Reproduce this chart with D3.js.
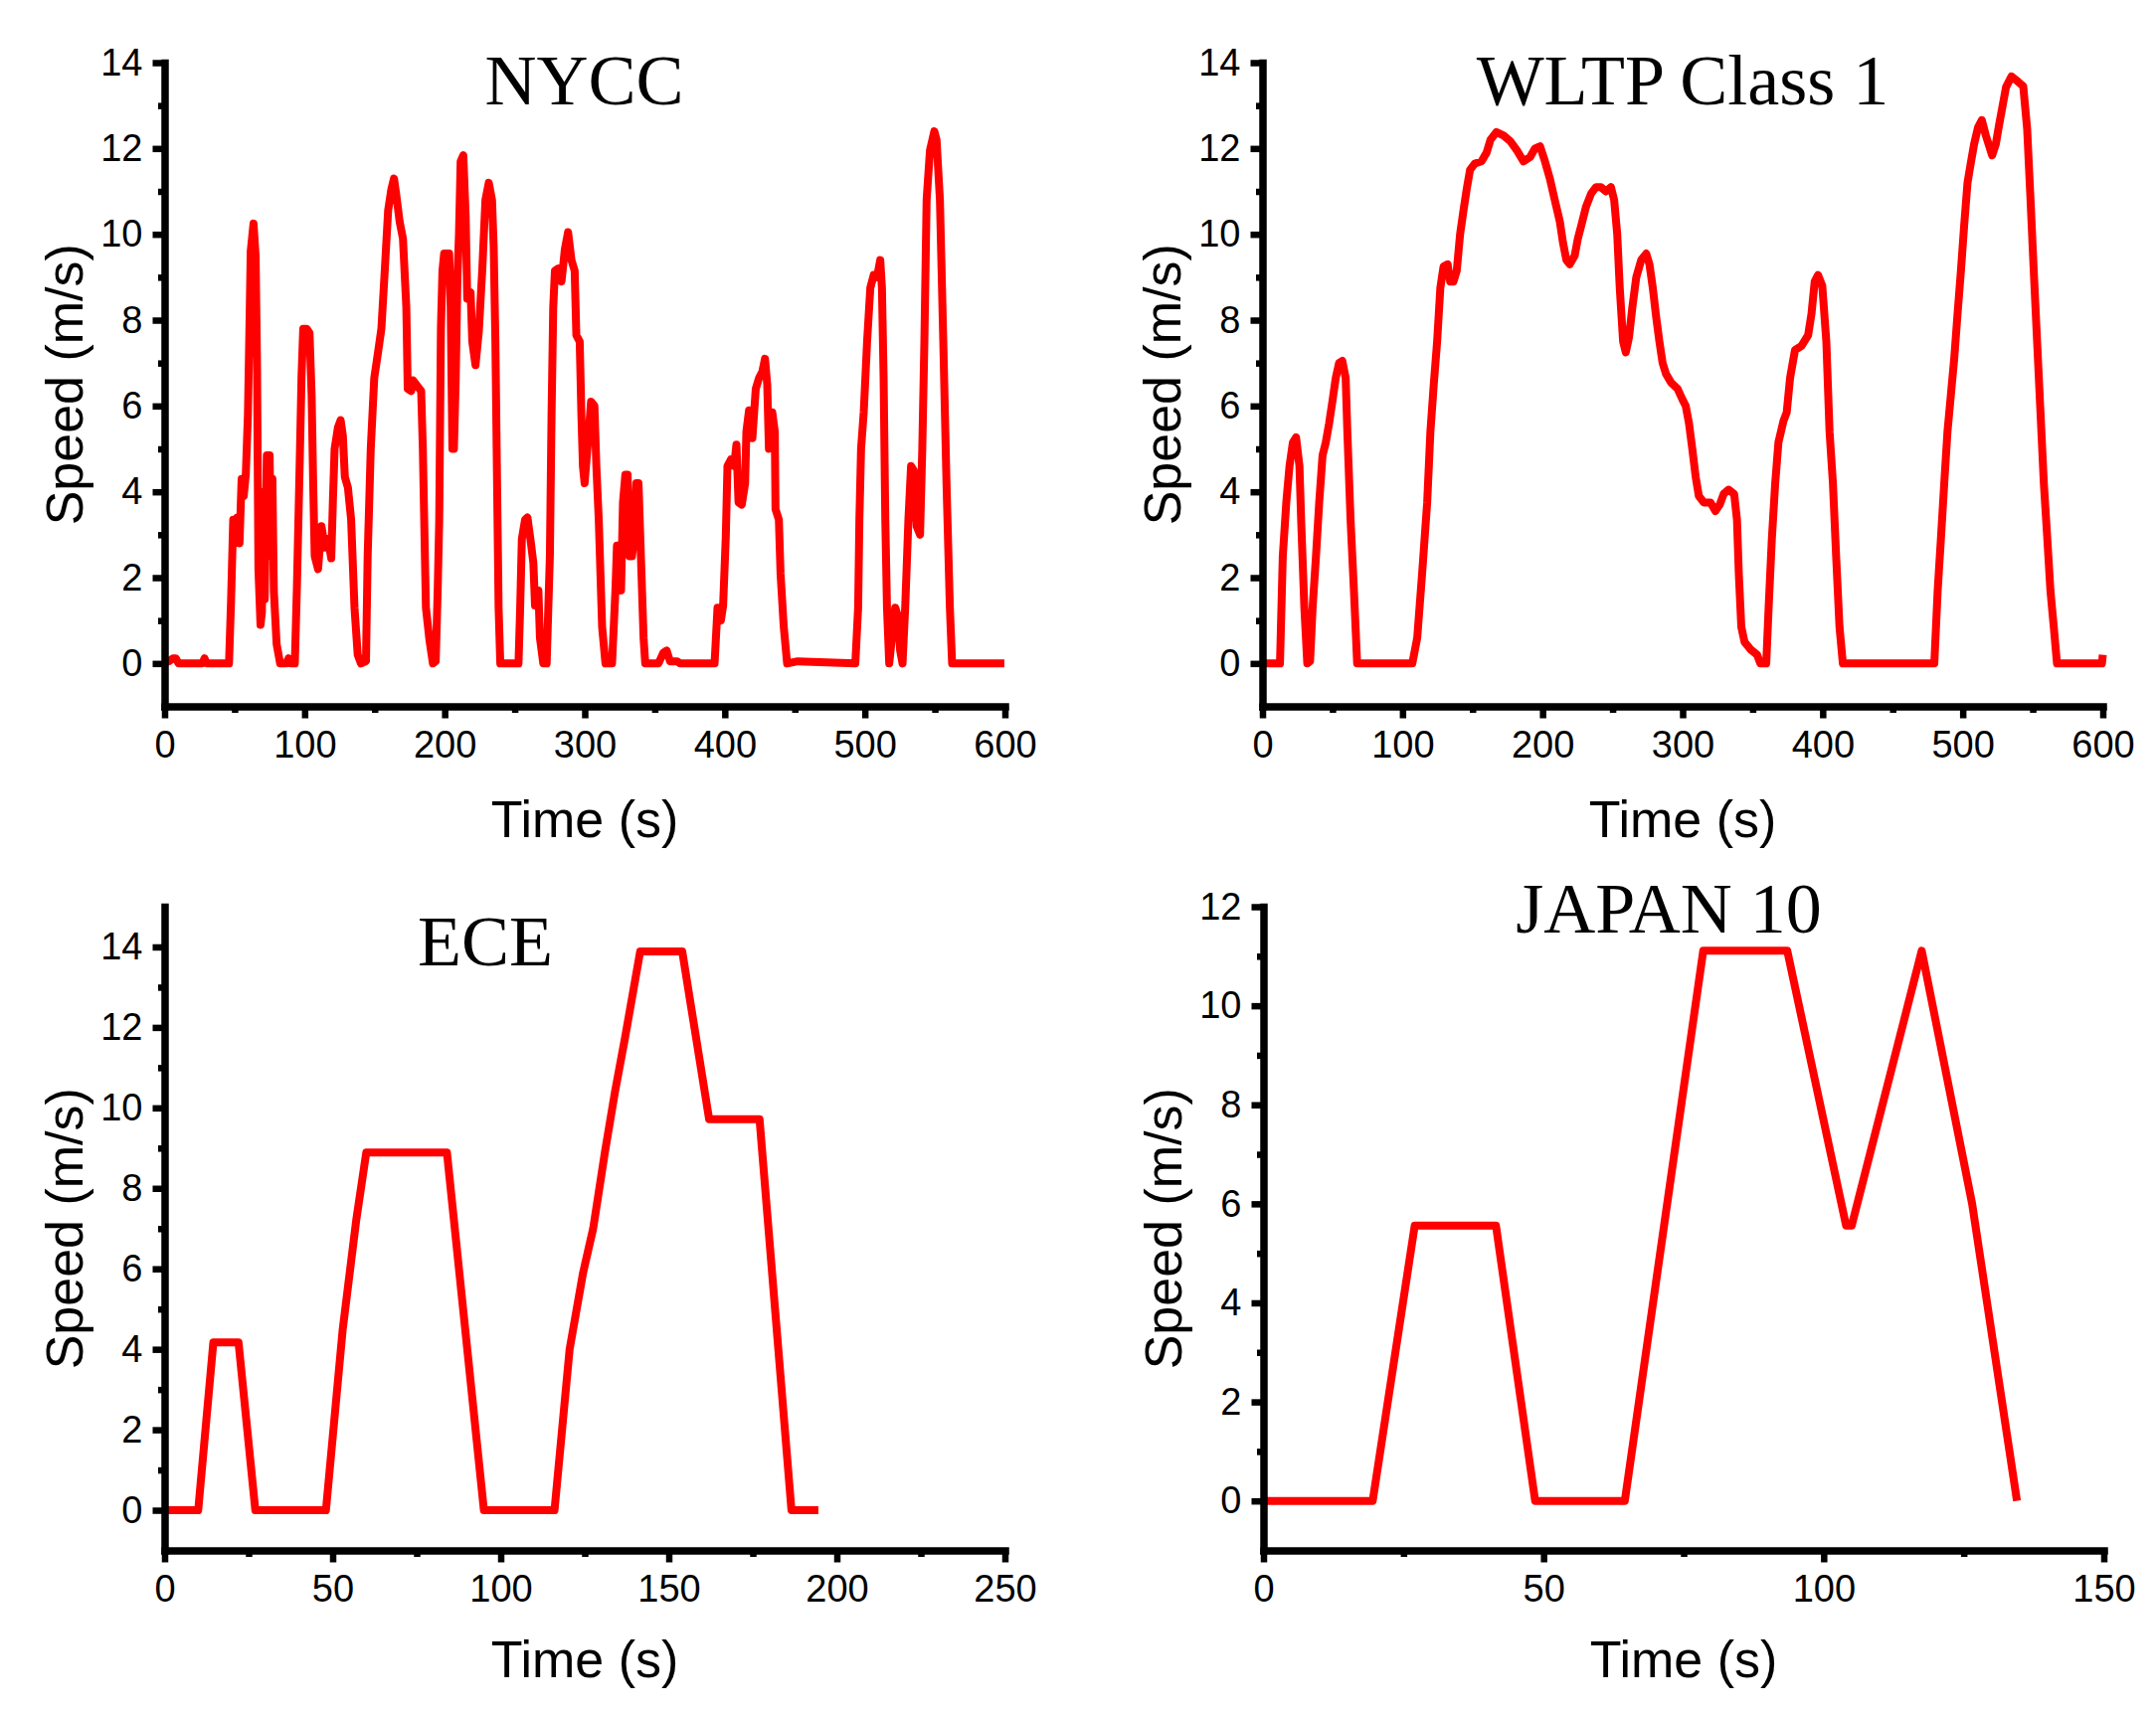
<!DOCTYPE html>
<html><head><meta charset="utf-8">
<script src="https://cdn.jsdelivr.net/npm/d3@7"></script>
<style>
html,body{margin:0;padding:0;background:#fff;}
svg{display:block;}
</style></head><body>
<svg id="chart" width="2168" height="1722"></svg>
<script>
// ---------------- data (time s, speed m/s) ----------------
const nyccData = [[0,0.05],[3,0.05],[6,0.12],[8,0.12],[10,0],[27,0],[28.5,0.12],[30,0],[46,0],[47.5,1.5],[49,3.35],[50.5,2.8],[52,3.4],[53.5,2.8],[55,4.3],[56.5,3.9],[58,4.4],[59.5,5.8],[60.5,7.65],[61.5,9.6],[63.5,10.25],[65,9.5],[66,7.0],[67,2.2],[68.5,0.9],[69.5,1.2],[70.5,4.0],[71.5,1.5],[73,4.85],[75,4.85],[76,2.5],[77,4.3],[78,1.7],[80,0.45],[82.5,0],[87,0],[88.5,0.12],[90,0],[93,0],[94.5,1.8],[96.5,4.7],[97.8,6.7],[99,7.8],[101.5,7.8],[103.5,7.7],[105,6.25],[106.1,4.2],[107.2,2.5],[109.6,2.2],[112,3.2],[114.4,2.7],[116.7,2.9],[119,2.45],[120.2,3.8],[121.4,5.0],[123.8,5.5],[125.7,5.67],[127.3,5.3],[128.7,4.35],[130.9,4.1],[133.2,3.35],[135.6,1.3],[137.9,0.2],[140.2,0],[143.8,0.05],[145,2.5],[147.2,5.0],[149.7,6.65],[152.4,7.25],[154.8,7.8],[157.2,9.15],[159.6,10.55],[161.9,11.05],[163.8,11.3],[165.5,10.9],[167.8,10.3],[170.2,9.9],[172.6,8.3],[173.6,6.4],[176.1,6.35],[177.3,6.6],[179.6,6.5],[183.2,6.35],[184.4,5.0],[185.6,2.95],[186.6,1.3],[189.1,0.55],[191.6,0],[193.6,0.05],[195,1.7],[196.1,3.35],[197.3,7.8],[198.4,9.15],[199.6,9.55],[203.2,9.55],[204.3,8.3],[205.5,5.0],[206.6,5.0],[207.9,6.65],[209.1,9.0],[210.2,10.0],[211.4,11.7],[213.3,11.84],[215,10.4],[216.1,8.5],[218.5,8.65],[219.7,7.5],[222,6.95],[224.4,7.75],[226.8,9.15],[229.1,10.8],[231.5,11.2],[233.8,10.8],[235,9.7],[236.2,7.5],[237.4,4.2],[238.5,1.3],[239.7,0],[252.7,0],[253.9,1.3],[255.1,2.9],[257.4,3.35],[259.1,3.4],[261.4,2.85],[263.3,2.35],[264.5,1.35],[266.9,1.7],[268,0.6],[270.4,0],[272.8,0],[275.1,2.5],[276.3,5.8],[277.5,8.3],[278.7,9.15],[281,9.2],[283.4,8.9],[285.8,9.65],[288.1,10.05],[290.5,9.4],[292.8,9.15],[294,7.65],[296.4,7.5],[297.6,5.8],[298.7,4.6],[299.9,4.2],[302.9,5.4],[304.5,6.1],[306.9,6.0],[308.3,4.6],[310,3.35],[311.2,2.1],[312.4,0.85],[314.8,0],[319.5,0],[321.9,1.7],[323,2.75],[324.9,2.75],[325.9,1.7],[327.3,3.75],[329,4.4],[330.6,4.4],[332,2.5],[333.7,2.5],[335.3,2.95],[336.8,4.2],[338.4,4.2],[340.1,2.5],[342,0.6],[343.2,0],[352.6,0],[356.1,0.25],[358.5,0.3],[360.9,0.05],[366,0.05],[368,0],[392.7,0],[394.8,1.3],[397.2,1.0],[398.8,1.35],[400.7,2.95],[401.9,4.6],[404.3,4.75],[406.7,4.6],[408.3,5.1],[409.8,3.75],[412.1,3.7],[414.5,4.2],[415.4,5.4],[417.3,5.9],[419.7,5.25],[422.1,6.4],[424.4,6.65],[426.8,6.8],[428.7,7.1],[430.3,6.5],[431.5,5.0],[433.9,5.85],[435.7,5.4],[436.2,3.6],[438.6,3.35],[439.8,2.1],[442.1,0.85],[444.5,0],[452,0.05],[493.2,0],[495.2,1.3],[496.1,3.35],[497.3,5.0],[499.2,5.85],[501.6,7.5],[503.9,8.75],[506.3,9.05],[508.7,9.0],[511,9.4],[512.2,8.75],[513.4,6.65],[514.6,3.35],[515.8,1.3],[517.4,0],[519.3,0.6],[521.7,1.3],[523.6,1.1],[525.2,0.3],[526.9,0],[528.8,1.3],[531.1,3.35],[533,4.6],[534.9,4.5],[537,3.2],[539.4,3.0],[541,5.0],[542.5,7.5],[544.1,10.8],[546.5,11.96],[549.6,12.4],[551.2,12.2],[553.6,10.8],[556,7.5],[558.3,4.2],[560.7,1.3],[562.3,0],[599.6,0]];

const wltpData = [[0,0],[12.5,0],[14.5,2.5],[17,3.75],[19.3,4.6],[21.7,5.15],[24,5.27],[26.4,4.6],[27.6,3.35],[29.9,1.3],[32,0],[34,0.05],[35.8,1.3],[38.2,2.5],[40.5,3.75],[42.9,4.85],[45.2,5.15],[47.6,5.6],[49.9,6.1],[52.3,6.65],[54.7,7.0],[57,7.05],[59.4,6.65],[60.6,5.4],[62.9,3.35],[65.3,1.7],[67.6,0],[107,0],[110.5,0.6],[114,2.1],[117.6,3.75],[119.9,5.4],[122.3,6.5],[124.7,7.5],[127,8.75],[129.3,9.25],[132.2,9.3],[134,8.9],[136.4,8.9],[138.7,9.15],[141.1,10.0],[143.5,10.55],[145.8,11.05],[148.2,11.5],[151.7,11.65],[156.4,11.7],[160,11.9],[162.8,12.2],[167,12.38],[172.2,12.3],[176.9,12.17],[181.6,11.96],[186.3,11.7],[191.1,11.8],[194.6,12.0],[198.2,12.05],[201.7,11.7],[205.2,11.3],[208.7,10.8],[212.3,10.3],[214.6,9.8],[217,9.4],[219.4,9.3],[222.9,9.5],[225.2,9.9],[227.6,10.2],[231.1,10.65],[234.7,10.95],[238.2,11.1],[241.7,11.1],[245.2,11.0],[248.8,11.1],[251.1,10.8],[253.3,10.0],[255.1,8.75],[257.5,7.5],[259.4,7.25],[261.7,7.6],[264.1,8.3],[266.9,9.0],[270.4,9.4],[274,9.55],[276.3,9.3],[278.7,8.75],[281,8.1],[283.4,7.5],[285.7,7.0],[288.1,6.75],[291.6,6.55],[296.4,6.4],[299.9,6.15],[302.2,6.0],[304.5,5.6],[306.9,5.0],[309.3,4.35],[311.6,3.9],[315.2,3.75],[319.9,3.75],[323.4,3.55],[326.5,3.7],[329.3,3.95],[332.8,4.05],[336.8,3.95],[338.8,3.35],[340.1,2.1],[341.9,0.85],[344.2,0.5],[348.4,0.33],[353.2,0.2],[355.5,0],[359.7,0],[361.4,1.3],[363.7,2.9],[366.1,4.2],[368.4,5.15],[372,5.65],[374.3,5.85],[376.7,6.65],[380.2,7.3],[384.9,7.4],[389.6,7.65],[392,8.15],[394.3,8.9],[396.7,9.05],[399.7,8.8],[402.6,7.5],[404.9,5.4],[407.3,4.2],[409.6,2.5],[412,0.85],[414.4,0],[479.7,0],[482.1,1.7],[484.4,2.9],[486.8,4.2],[489.1,5.4],[491.5,6.25],[493.9,7.1],[496.3,8.15],[498.7,9.15],[501,10.2],[503.4,11.2],[505.7,11.65],[508.1,12.1],[511,12.5],[513.6,12.66],[516.5,12.3],[521,11.84],[523.6,12.1],[525.9,12.54],[530.9,13.43],[534.8,13.68],[539.7,13.55],[543.2,13.45],[546,12.45],[548.4,10.8],[550.7,9.15],[553.1,7.5],[555.5,5.85],[557.9,4.2],[560.3,2.95],[562.6,1.7],[565,0.85],[567.3,0],[599.4,0],[600,0.2]];

const eceData = [[0,0],[10,0],[14.5,4.17],[22,4.17],[27,0],[48,0],[53,4.5],[57,7.2],[60,8.89],[84,8.89],[95,0],[116,0],[120.5,4.0],[124.5,5.9],[127.5,7.0],[131,8.9],[134,10.4],[137,11.75],[141.5,13.89],[154,13.89],[162,9.72],[177,9.72],[186.5,0],[194.5,0]];

const japanData = [[0,0],[19.5,0],[27,5.56],[41.5,5.56],[48.5,0],[64.5,0],[78.5,11.11],[93.5,11.11],[104,5.56],[105,5.56],[117.5,11.11],[126.5,6.0],[134.5,0]];

const panelTitles = ["NYCC", "WLTP Class 1", "ECE", "JAPAN 10"];
const xAxisLabel = "Time (s)";
const yAxisLabel = "Speed (m/s)";

const xMajor600 = [0,100,200,300,400,500,600];
const xMinor600 = [50,150,250,350,450,550];
const xMajor250 = [0,50,100,150,200,250];
const xMinor250 = [25,75,125,175,225];
const xMajor150 = [0,50,100,150];
const xMinor150 = [25,75,125];
const yMajor14 = [0,2,4,6,8,10,12,14];
const yMinor14 = [1,3,5,7,9,11,13];
const yMajor12 = [0,2,4,6,8,10,12];
const yMinor12 = [1,3,5,7,9,11];

// ---------------- layout ----------------
const panels = [
  {data: nyccData, title: panelTitles[0], xd:[0,600], yd:[-1,14], xM:xMajor600, xm:xMinor600, yM:yMajor14, ym:yMinor14,
   l:165.5, r:1010.5, t:63, b:710.5, tx:587.5, ty:104.7, xlo:131},
  {data: wltpData, title: panelTitles[1], xd:[0,600], yd:[-1,14], xM:xMajor600, xm:xMinor600, yM:yMajor14, ym:yMinor14,
   l:1269.5, r:2114.5, t:63, b:710.5, tx:1692, ty:104.7, xlo:131},
  {data: eceData, title: panelTitles[2], xd:[0,250], yd:[-1,15], xM:xMajor250, xm:xMinor250, yM:yMajor14, ym:yMinor14,
   l:165.5, r:1010.5, t:912, b:1559.5, tx:488, ty:971, xlo:127},
  {data: japanData, title: panelTitles[3], xd:[0,150], yd:[-1,12], xM:xMajor150, xm:xMinor150, yM:yMajor12, ym:yMinor12,
   l:1270.5, r:2115.5, t:912, b:1559.5, tx:1678, ty:938, xlo:127}
];

const sans = "'Liberation Sans', Arial, Helvetica, sans-serif";
const serif = "'Liberation Serif', 'Times New Roman', Times, serif";

const svg = d3.select("#chart");
svg.append("rect").attr("width", 2168).attr("height", 1722).attr("fill", "#fff");

function styleAxis(g) {
  g.attr("font-family", sans).attr("font-size", 38);
  g.select(".domain").attr("stroke", "#000").attr("stroke-width", 7.5).attr("stroke-linecap", "square");
  g.selectAll(".tick line").attr("stroke", "#000").attr("stroke-width", 6.5);
  g.selectAll(".tick text").attr("fill", "#000");
}

panels.forEach(p => {
  const x = d3.scaleLinear().domain(p.xd).range([p.l, p.r]);
  const y = d3.scaleLinear().domain(p.yd).range([p.b, p.t]);
  const g = svg.append("g");

  // speed trace
  g.append("path").datum(p.data)
    .attr("fill", "none").attr("stroke", "#ff0000").attr("stroke-width", 8)
    .attr("stroke-linejoin", "round").attr("stroke-linecap", "butt")
    .attr("d", d3.line().x(d => x(d[0])).y(d => y(d[1])));

  // minor ticks
  g.append("g").attr("transform", `translate(0,${p.b})`)
    .call(d3.axisBottom(x).tickValues(p.xm).tickSize(6.5).tickFormat(""))
    .call(styleAxis).call(a => a.select(".domain").remove());
  g.append("g").attr("transform", `translate(${p.l},0)`)
    .call(d3.axisLeft(y).tickValues(p.ym).tickSize(6.5).tickFormat(""))
    .call(styleAxis).call(a => a.select(".domain").remove());

  // major axes
  g.append("g").attr("transform", `translate(0,${p.b})`)
    .call(d3.axisBottom(x).tickValues(p.xM).tickSize(12).tickPadding(12.5).tickSizeOuter(0))
    .call(styleAxis);
  g.append("g").attr("transform", `translate(${p.l},0)`)
    .call(d3.axisLeft(y).tickValues(p.yM).tickSize(12).tickPadding(10).tickSizeOuter(0))
    .call(styleAxis);

  // title
  g.append("text").attr("x", p.tx).attr("y", p.ty)
    .attr("text-anchor", "middle").attr("font-family", serif).attr("font-size", 72)
    .attr("fill", "#000").text(p.title);

  // axis labels
  g.append("text").attr("x", (p.l + p.r) / 2).attr("y", p.b + p.xlo)
    .attr("text-anchor", "middle").attr("font-family", sans).attr("font-size", 52)
    .attr("fill", "#000").text(xAxisLabel);
  g.append("text")
    .attr("transform", `translate(${p.l - 82.5},${(p.t + p.b) / 2}) rotate(-90)`)
    .attr("text-anchor", "middle").attr("font-family", sans).attr("font-size", 52)
    .attr("fill", "#000").text(yAxisLabel);
});
</script>
</body></html>
